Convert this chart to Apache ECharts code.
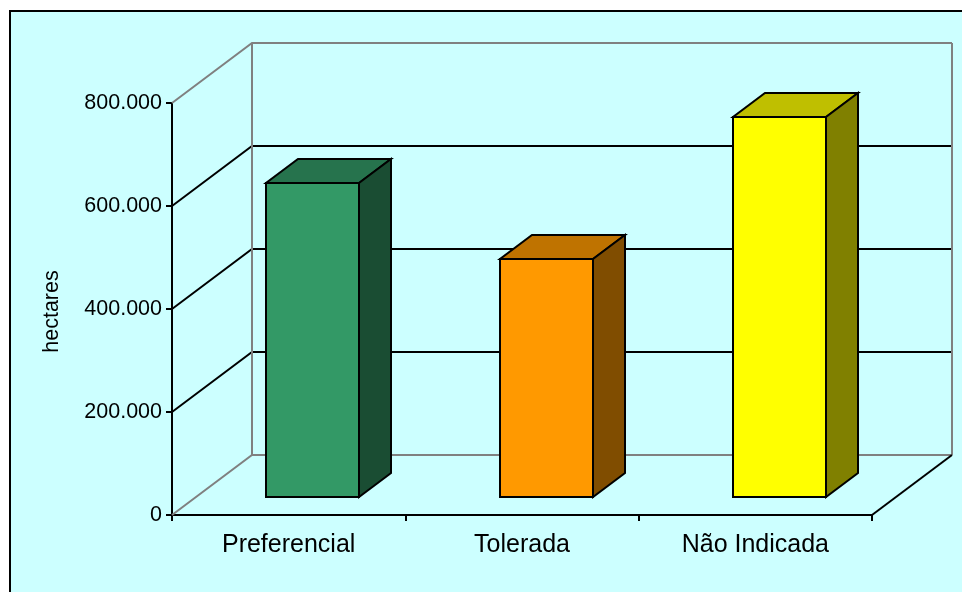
<!DOCTYPE html>
<html>
<head>
<meta charset="utf-8">
<style>html,body{margin:0;padding:0;background:#fff}#c{width:962px;height:592px}</style>
<script src="https://cdn.jsdelivr.net/npm/echarts@6/dist/echarts.min.js"></script>
</head>
<body>
<div id="c"></div>
<script>
const categories = ['Preferencial', 'Tolerada', 'Não Indicada'];
const values = [610000, 462000, 738000];
const yTicks = [0, 200000, 400000, 600000, 800000];
const yAxisTitle = 'hectares';
const barColors = ['#339966', '#FF9900', '#FFFF00'];

const FONT = '"Liberation Sans", Arial, sans-serif';
const WALL_DX = 80, WALL_DY = -60;
const BAR_FRONT = 0.3, BAR_DEPTH = 0.4, BAR_WIDTH = 0.4;
const GRAY = '#808080';

function shade(hex, k) {
  const n = parseInt(hex.slice(1), 16);
  const c = [(n >> 16) & 255, (n >> 8) & 255, n & 255].map(v => Math.round(v * k));
  return 'rgb(' + c.join(',') + ')';
}
function dotted(v) { return String(v).replace(/\B(?=(\d{3})+$)/g, '.'); }

function renderWall(params, api) {
  const v = api.value(0);
  const cs = params.coordSys;
  const p = api.coord([0, v]);
  const x0 = cs.x, x1 = cs.x + cs.width, y = Math.round(p[1]);
  const edge = v === yTicks[0] || v === yTicks[yTicks.length - 1];
  const color = edge ? GRAY : '#000';
  const children = [{
    type: 'polyline', silent: true,
    shape: { points: [[x0, y], [x0 + WALL_DX, y + WALL_DY], [x1 + WALL_DX, y + WALL_DY]] },
    style: { fill: 'none', stroke: color, lineWidth: 2 }
  }];
  if (v === yTicks[yTicks.length - 1]) {
    const yb = cs.y + cs.height;
    children.push({
      type: 'line', silent: true,
      shape: { x1: x0 + WALL_DX, y1: y + WALL_DY, x2: x0 + WALL_DX, y2: yb + WALL_DY },
      style: { stroke: GRAY, lineWidth: 2 }
    }, {
      type: 'line', silent: true,
      shape: { x1: x1 + WALL_DX, y1: y + WALL_DY, x2: x1 + WALL_DX, y2: yb + WALL_DY },
      style: { stroke: GRAY, lineWidth: 2 }
    }, {
      type: 'line', silent: true,
      shape: { x1: x1, y1: yb, x2: x1 + WALL_DX, y2: yb + WALL_DY },
      style: { stroke: '#000', lineWidth: 2 }
    });
  }
  return { type: 'group', children };
}

function renderBar(params, api) {
  const i = api.value(0);
  const top = api.coord([i, api.value(1)]);
  const base = api.coord([i, 0]);
  const band = api.size([1, 0])[0];
  const w = Math.round(band * BAR_WIDTH);
  const fx = WALL_DX * BAR_FRONT, fy = WALL_DY * BAR_FRONT;
  const dx = WALL_DX * BAR_DEPTH, dy = WALL_DY * BAR_DEPTH;
  const l = Math.round(top[0] - w / 2 + fx), r = l + w;
  const t = Math.round(top[1] + fy), b = Math.round(base[1] + fy);
  const col = barColors[i];
  const line = { stroke: '#000', lineWidth: 2, lineJoin: 'miter' };
  return {
    type: 'group',
    children: [
      { type: 'polygon', shape: { points: [[l, t], [r, t], [r + dx, t + dy], [l + dx, t + dy]] },
        style: Object.assign({ fill: shade(col, 0.75) }, line) },
      { type: 'polygon', shape: { points: [[r, t], [r + dx, t + dy], [r + dx, b + dy], [r, b]] },
        style: Object.assign({ fill: shade(col, 0.5) }, line) },
      { type: 'rect', shape: { x: l, y: t, width: w, height: b - t },
        style: Object.assign({ fill: col }, line) }
    ]
  };
}

const chart = echarts.init(document.getElementById('c'), null, { renderer: 'canvas' });
chart.setOption({
  backgroundColor: '#fff',
  animation: false,
  textStyle: { fontFamily: FONT },
  graphic: [{
    type: 'rect', z: -10, silent: true,
    shape: { x: 10, y: 11, width: 1000, height: 640 },
    style: { fill: '#CCFFFF', stroke: '#000', lineWidth: 2 }
  }],
  grid: { left: 172, top: 103, width: 700, height: 412, containLabel: false },
  xAxis: {
    type: 'category',
    data: categories,
    boundaryGap: true,
    axisLine: { lineStyle: { color: '#000', width: 2 } },
    axisTick: { show: true, length: 6, lineStyle: { color: '#000', width: 2 } },
    axisLabel: { color: '#000', fontSize: 25, fontFamily: FONT, margin: 18, interval: 0 },
    splitLine: { show: false }
  },
  yAxis: {
    type: 'value',
    min: 0, max: 800000, interval: 200000,
    name: yAxisTitle,
    nameLocation: 'middle',
    nameGap: 109,
    nameRotate: 90,
    nameTextStyle: { color: '#000', fontSize: 21.5, fontFamily: FONT, padding: [0, 5, 0, 0] },
    axisLine: { show: true, lineStyle: { color: '#000', width: 2 } },
    axisTick: { show: true, length: 6, lineStyle: { color: '#000', width: 2 } },
    axisLabel: { color: '#000', fontSize: 21.5, fontFamily: FONT, margin: 10, formatter: dotted },
    splitLine: { show: false }
  },
  series: [
    { type: 'custom', name: 'walls', renderItem: renderWall, z: 1, silent: true,
      encode: { y: 0 }, data: yTicks.map(v => [v]) },
    { type: 'custom', name: 'bars', renderItem: renderBar, z: 2, silent: true,
      encode: { x: 0, y: 1 }, data: values.map((v, i) => [i, v]) }
  ]
});
</script>
</body>
</html>
